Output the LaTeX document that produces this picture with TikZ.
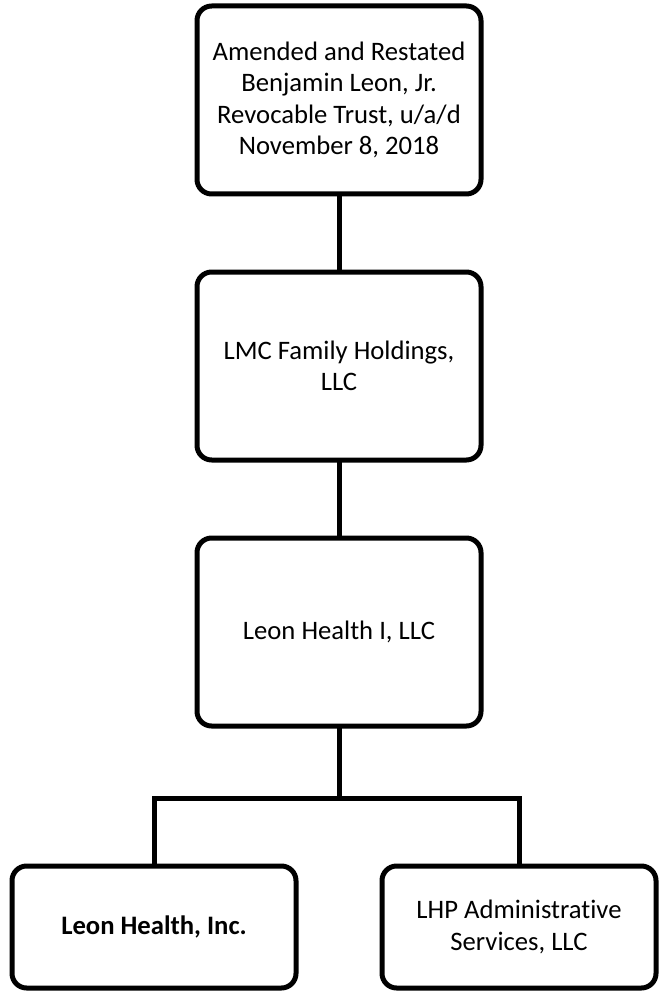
\documentclass[tikz,border=0pt]{standalone}
\usepackage{fontspec}
\setmainfont{Carlito}[Ligatures=NoCommon]
\begin{document}
\begin{tikzpicture}[x=0.75pt,y=-0.75pt,
  ent/.style={draw=black, line width=3.75pt, rounded corners=11pt, fill=white,
    align=center, inner sep=0pt, outer sep=0pt,
    font=\fontsize{20}{23.5}\selectfont},
  conn/.style={draw=black, line width=3.75pt}]
\useasboundingbox (0,0) rectangle (660,991);
\node[ent, minimum width=213pt, minimum height=141pt] (trust) at (339,100)
  {Amended and Restated\\Benjamin Leon, Jr.\\Revocable Trust, u/a/d\\November 8, 2018};
\node[ent, minimum width=213pt, minimum height=141pt] (lmc) at (339,366)
  {LMC Family Holdings,\\LLC};
\node[ent, minimum width=213pt, minimum height=141pt] (lh1) at (339,632)
  {Leon Health I, LLC};
\node[ent, minimum width=213pt, minimum height=91.5pt] (lhi) at (154,927)
  {\bfseries Leon Health, Inc.};
\node[ent, minimum width=205.5pt, minimum height=91.5pt] (lhp) at (519,927)
  {LHP Administrative\\Services, LLC};
\draw[conn] (trust.south) -- (lmc.north);
\draw[conn] (lmc.south) -- (lh1.north);
\coordinate (fork) at (339,798);
\draw[conn] (lh1.south) -- (fork);
\draw[conn] (lhi.north) |- (fork) -| (lhp.north);
\end{tikzpicture}
\end{document}
